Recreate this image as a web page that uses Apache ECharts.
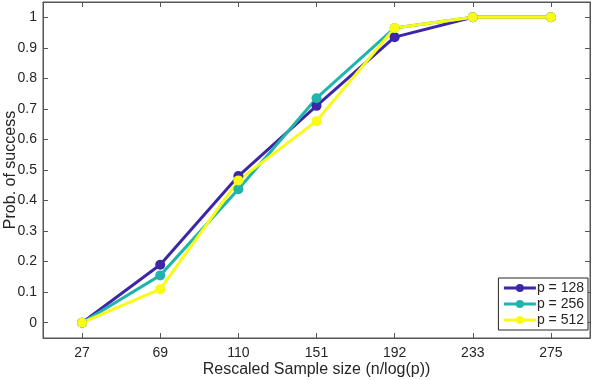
<!DOCTYPE html>
<html><head><meta charset="utf-8">
<script src="https://cdn.jsdelivr.net/npm/echarts@6/dist/echarts.min.js"></script>
<style>html,body{margin:0;padding:0;background:#fff}#c{width:592px;height:380px}</style>
</head><body><div id="c"></div>
<script>
var categories = ['27','69','110','151','192','233','275'];
var p128 = [0, 0.19, 0.48, 0.71, 0.935, 1, 1];
var p256 = [0, 0.155, 0.437, 0.735, 0.965, 1, 1];
var p512 = [0, 0.11, 0.466, 0.66, 0.965, 1, 1];
var seriesNames = ['p = 128', 'p = 256', 'p = 512'];
var colors = ['#3E26A8', '#1FB5AC', '#F9FB15'];

var font = 'Liberation Sans, Arial, sans-serif';
var axisCol = '#555555';
var txt = '#262626';
var chart = echarts.init(document.getElementById('c'));
function mk(name, data, col) {
  return {name: name, type: 'line', data: data, symbol: 'circle', symbolSize: 10,
    lineStyle: {width: 3, color: col}, itemStyle: {color: col}, emphasis: {disabled: true}, z: 3};
}
chart.setOption({
  animation: false,
  color: colors,
  grid: {left: 43, right: 2, top: 2, bottom: 42, containLabel: false, outerBoundsMode: 'none',
    show: true, borderColor: axisCol, borderWidth: 1, backgroundColor: 'transparent'},
  legend: {
    right: 4, bottom: 50, orient: 'vertical', itemWidth: 32, itemHeight: 10, itemGap: 2,
    padding: [3, 4, 3, 4], borderColor: '#262626', borderWidth: 1, backgroundColor: '#fff',
    lineStyle: {width: 3},
    textStyle: {fontFamily: font, fontSize: 14, color: txt, padding: [0, 0, 0, -4]},
    data: seriesNames
  },
  xAxis: [{
    type: 'category', data: categories, boundaryGap: true,
    name: 'Rescaled Sample size (n/log(p))', nameLocation: 'middle', nameGap: 24, nameMoveOverlap: false,
    nameTextStyle: {fontFamily: font, fontSize: 16, color: txt},
    axisLine: {show: true, onZero: false, lineStyle: {color: axisCol}},
    axisTick: {show: true, inside: true, alignWithLabel: true, length: 5, lineStyle: {color: axisCol}},
    axisLabel: {fontFamily: font, fontSize: 14, color: txt, margin: 8},
    splitLine: {show: false}
  }, {
    type: 'category', data: categories, boundaryGap: true, position: 'top',
    axisLine: {show: true, onZero: false, lineStyle: {color: axisCol}},
    axisTick: {show: true, inside: true, alignWithLabel: true, length: 5, lineStyle: {color: axisCol}},
    axisLabel: {show: false}, splitLine: {show: false}
  }],
  yAxis: [{
    type: 'value', min: -0.05, max: 1.05, splitNumber: 11,
    name: 'Prob. of success', nameLocation: 'middle', nameGap: 24, nameMoveOverlap: false,
    nameTextStyle: {fontFamily: font, fontSize: 16, color: txt},
    axisLine: {show: true, onZero: false, lineStyle: {color: axisCol}},
    axisTick: {show: true, inside: true, length: 5, lineStyle: {color: axisCol}},
    axisLabel: {fontFamily: font, fontSize: 14, color: txt, margin: 6, showMinLabel: false, showMaxLabel: false},
    splitLine: {show: false}
  }, {
    type: 'value', min: -0.05, max: 1.05, splitNumber: 11, position: 'right',
    axisLine: {show: true, onZero: false, lineStyle: {color: axisCol}},
    axisTick: {show: true, inside: true, length: 5, lineStyle: {color: axisCol}},
    axisLabel: {show: false}, splitLine: {show: false}
  }],
  series: [
    mk(seriesNames[0], p128, colors[0]),
    mk(seriesNames[1], p256, colors[1]),
    mk(seriesNames[2], p512, colors[2]),
    {name: 'frame', type: 'line', xAxisIndex: 1, yAxisIndex: 1, data: [], silent: true}
  ]
});
</script></body></html>
